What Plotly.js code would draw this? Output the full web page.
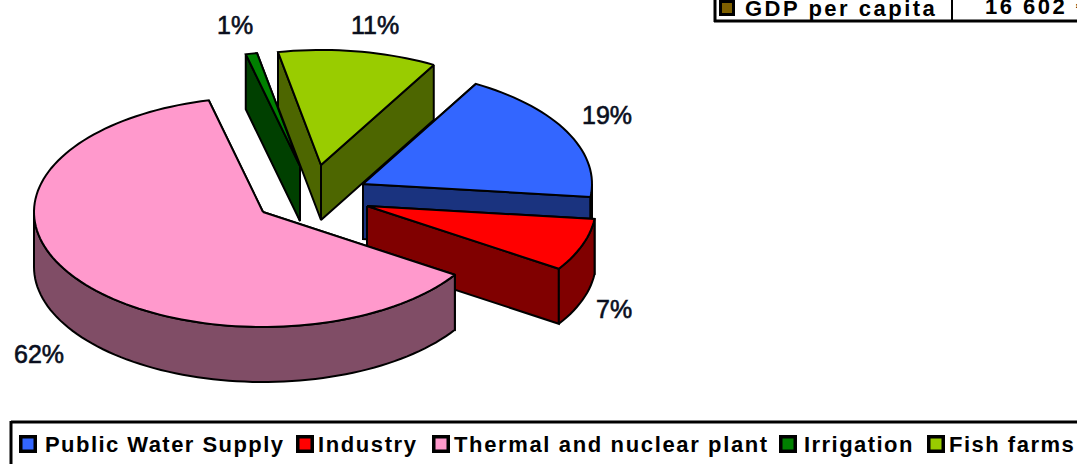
<!DOCTYPE html>
<html>
<head>
<meta charset="utf-8">
<script src="https://cdn.plot.ly/plotly-3.0.1.min.js"></script>
<style>
html,body{margin:0;padding:0;background:#fff;overflow:hidden}
</style>
</head>
<body>
<div id="chart" style="width:1077px;height:464px"></div>
<script>
// ---- data ----
const categories = ["Public Water Supply", "Industry", "Thermal and nuclear plant", "Irrigation", "Fish farms"];
const shares = [18.6, 7.4, 62, 0.8, 11.2];
const tableLabel = "GDP per capita";
const tableValue = "16 602 €";

// ---- styles ----
const topColors = ["#3366FF", "#FF0000", "#FF99CC", "#008000", "#99CC00"];
const sideColors = ["#1A337F", "#800000", "#804D66", "#004000", "#4D6600"];
const tableSwatch = "#7F6000";

// ---- chart geometry (pixel scale of the axes) ----
const firstSliceAngle = 29.5;
const radiusX = 229, radiusY = 115, depth = 55;
const explodedCentres = [[363, 184], [367, 206], [263, 212], [300, 166], [321, 165]];
const labelPositions = [[607, 115], [614, 309], [39, 354], [235, 25], [375, 25]];
const legendMarkerX = [28, 305, 441, 788, 936];
const legendTextX = [43, 316, 452, 802, 947];
const drawOrder = [3, 4, 0, 1, 2];

const rad = d => d * Math.PI / 180;
function rim(c, t, dz) {
  return [c[0] + radiusX * Math.sin(rad(t)), c[1] - radiusY * Math.cos(rad(t)) + dz];
}
function polygon(points, color, name) {
  return {
    type: "scatter", mode: "lines", fill: "toself", fillcolor: color,
    x: points.map(p => p[0]), y: points.map(p => p[1]),
    line: {color: "#000", width: 2, simplify: false, shape: "linear"},
    hoverinfo: "text", text: name, showlegend: false
  };
}
function arc(c, a, b, dz) {
  const pts = [], n = Math.max(2, Math.ceil(Math.abs(b - a) / 2));
  for (let i = 0; i <= n; i++) pts.push(rim(c, a + (b - a) * i / n, dz));
  return pts;
}

let cumulative = firstSliceAngle;
const ranges = shares.map(v => { const a = cumulative; cumulative += v * 3.6; return [a, cumulative]; });

const traces = [];
drawOrder.forEach(i => {
  const [a, b] = ranges[i], c = explodedCentres[i], name = categories[i] + ": " + Math.round(shares[i]) + "%";
  const down = [c[0], c[1] + depth];
  // radial cut faces, rear face first
  const backness = t => Math.abs(((t % 360) + 360) % 360 - 180);
  [a, b].sort((p, q) => backness(q) - backness(p)).forEach(t => {
    traces.push(polygon([c, rim(c, t, 0), rim(c, t, depth), down, c], sideColors[i], name));
  });
  // outer wall, only the part that faces the viewer
  const lo = Math.max(a, 90), hi = Math.min(b, 270);
  if (hi > lo) {
    const wall = arc(c, lo, hi, 0).concat(arc(c, hi, lo, depth));
    wall.push(wall[0]);
    traces.push(polygon(wall, sideColors[i], name));
  }
  // top surface
  const top = [c].concat(arc(c, a, b, 0));
  top.push(c);
  traces.push(polygon(top, topColors[i], name));
});

// legend swatches
traces.push({
  type: "scatter", mode: "markers", x: legendMarkerX, y: categories.map(() => 444),
  marker: {symbol: "square", size: 14.5, color: topColors, line: {color: "#000", width: 3.5}},
  hoverinfo: "text", text: categories, showlegend: false
});
// table swatch
traces.push({
  type: "scatter", mode: "markers", x: [727], y: [8],
  marker: {symbol: "square", size: 13, color: tableSwatch, line: {color: "#000", width: 3}},
  hoverinfo: "text", text: [tableLabel], showlegend: false
});

const pctFont = {family: "Liberation Sans, Arial, sans-serif", size: 25, color: "#0a0f1e"};
const legFont = {family: "Liberation Sans, Arial, sans-serif", size: 22, color: "#000"};
const annotations = [];
shares.forEach((v, i) => annotations.push({
  xref: "x", yref: "y", x: labelPositions[i][0], y: labelPositions[i][1],
  text: Math.round(v) + "%", showarrow: false, xanchor: "center", yanchor: "middle", font: pctFont
}));
categories.forEach((c, i) => annotations.push({
  xref: "x", yref: "y", x: legendTextX[i], y: 444,
  text: "<b>" + c + "</b>", showarrow: false, xanchor: "left", yanchor: "middle", font: legFont
}));
annotations.push({xref: "x", yref: "y", x: 743, y: 8, text: "<b>" + tableLabel + "</b>",
  showarrow: false, xanchor: "left", yanchor: "middle", font: legFont});
annotations.push({xref: "x", yref: "y", x: 983, y: 6, text: "<b>" + tableValue + "</b>",
  showarrow: false, xanchor: "left", yanchor: "middle", font: legFont});

const line = (x0, y0, x1, y1, w) => ({type: "line", xref: "x", yref: "y", x0, y0, x1, y1,
  line: {color: "#000", width: w}, layer: "above"});
const shapes = [
  line(11, 422, 1077, 422, 3), line(11, 421, 11, 464, 3),
  line(715, 0, 715, 22, 3), line(714, 21, 1077, 21, 3), line(952, 0, 952, 21, 2)
];

Plotly.newPlot("chart", traces, {
  width: 1077, height: 464,
  margin: {l: 0, r: 0, t: 0, b: 0, pad: 0},
  paper_bgcolor: "#fff", plot_bgcolor: "#fff",
  xaxis: {range: [0, 1077], visible: false, fixedrange: true},
  yaxis: {range: [464, 0], visible: false, fixedrange: true},
  showlegend: false, annotations, shapes
}, {displayModeBar: false, staticPlot: true}).then(() => {
  const texts = document.querySelectorAll(".annotation-text");
  const spacing = [1.45, 1.6, 1.64, 1.45, 1.5];
  const widen = (el, s) => {
    const before = el.getBBox().x;
    el.style.letterSpacing = s + "px";
    const after = el.getBBox().x;
    el.setAttribute("x", parseFloat(el.getAttribute("x")) + before - after);
  };
  texts.forEach((el, i) => {
    if (i < shares.length) {
      el.style.stroke = "#0a0f1e";
      el.style.strokeWidth = "0.6px";
    } else if (i < shares.length + categories.length) {
      widen(el, spacing[i - shares.length]);
    } else {
      widen(el, 2.5);
    }
  });
});
</script>
</body>
</html>
